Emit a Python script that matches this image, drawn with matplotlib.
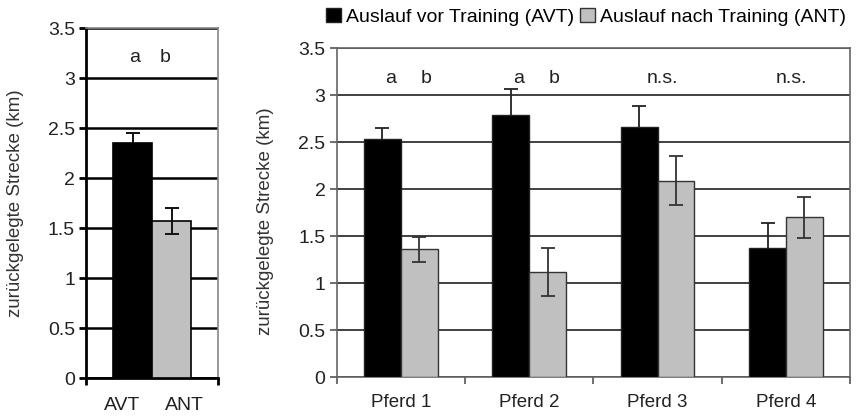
import matplotlib.pyplot as plt
import numpy as np

plt.rcParams['font.family'] = ['Liberation Sans', 'DejaVu Sans']

# overall means (left panel)
overall_labels = ['AVT', 'ANT']
overall_mean = [2.35, 1.57]
overall_err = [0.10, 0.13]
overall_letters = ['a', 'b']

# per horse (right panel)
horses = ['Pferd 1', 'Pferd 2', 'Pferd 3', 'Pferd 4']
avt_mean = [2.53, 2.79, 2.66, 1.38]
avt_err = [0.12, 0.28, 0.23, 0.26]
ant_mean = [1.36, 1.12, 2.09, 1.70]
ant_err = [0.13, 0.26, 0.26, 0.22]
group_letters = [('a', 'b'), ('a', 'b'), 'n.s.', 'n.s.']

yticks = [0, 0.5, 1, 1.5, 2, 2.5, 3, 3.5]
ytick_labels = ['0', '0.5', '1', '1.5', '2', '2.5', '3', '3.5']
ylabel = 'zurückgelegte Strecke (km)'
legend_labels = ['Auslauf vor Training (AVT)', 'Auslauf nach Training (ANT)']

BLACK = '#000000'
GRAY = '#c0c0c0'
TXT = '#222222'
FS = 14

fig = plt.figure(figsize=(8.6, 4.16), dpi=100)

# ---------- left panel ----------
ax1 = fig.add_axes([0.1, 0.0913, 0.1535, 0.841])
x1 = np.arange(len(overall_labels))
ax1.bar(x1, overall_mean, width=1.0, color=[BLACK, GRAY], edgecolor='black',
        linewidth=1.2, zorder=3)
# black bar hides the lower half of its own error bar
ax1.errorbar(x1[0], overall_mean[0], yerr=overall_err[0], fmt='none',
             ecolor='#111111', elinewidth=1.4, capsize=5, capthick=1.4, zorder=2)
ax1.errorbar(x1[1], overall_mean[1], yerr=overall_err[1], fmt='none',
             ecolor='#111111', elinewidth=1.4, capsize=5, capthick=1.4, zorder=4)
ax1.text(x1[0] + 0.05, 3.21, overall_letters[0], ha='center', va='center',
         fontsize=FS, color=TXT)
ax1.text(x1[1] - 0.18, 3.21, overall_letters[1], ha='center', va='center',
         fontsize=FS, color=TXT)
ax1.set_xlim(-1.205, 2.18)
ax1.set_ylim(0, 3.5)
ax1.set_yticks(yticks)
ax1.set_yticklabels(ytick_labels)
ax1.yaxis.grid(True, color='black', linewidth=1.8, zorder=0)
ax1.set_axisbelow(True)
ax1.set_xticks([-1.205, 2.18])
ax1.set_xticklabels(['', ''])
ax1.set_xticks([x1[0] - 0.27, x1[1] + 0.33], minor=True)
ax1.set_xticklabels(overall_labels, minor=True)
ax1.tick_params(axis='x', which='minor', length=0, pad=14, labelsize=FS, labelcolor=TXT)
ax1.tick_params(axis='x', which='major', length=5, width=2, direction='out')
ax1.tick_params(axis='y', length=5, width=2, labelsize=FS, labelcolor=TXT, pad=3)
for s in ['left', 'bottom']:
    ax1.spines[s].set_linewidth(2)
    ax1.spines[s].set_color('black')
for s in ['top', 'right']:
    ax1.spines[s].set_linewidth(1.2)
    ax1.spines[s].set_color('#888888')
ax1.set_ylabel(ylabel, fontsize=13.5, color='#333333')
ax1.yaxis.set_label_coords(-0.47, 0.5)

# ---------- right panel ----------
ax2 = fig.add_axes([0.3915, 0.093, 0.597, 0.791])
xg = np.arange(len(horses)) + 0.5
w = 0.287
ax2.bar(xg - w / 2, avt_mean, width=w, color=BLACK, edgecolor='#222222',
        linewidth=1, zorder=3, label=legend_labels[0])
ax2.bar(xg + w / 2, ant_mean, width=w, color=GRAY, edgecolor='#333333',
        linewidth=1, zorder=3, label=legend_labels[1])
ax2.errorbar(xg - w / 2, avt_mean, yerr=avt_err, fmt='none', ecolor='#222222',
             elinewidth=1.3, capsize=5, capthick=1.3, zorder=2.5)
ax2.errorbar(xg + w / 2, ant_mean, yerr=ant_err, fmt='none', ecolor='#333333',
             elinewidth=1.3, capsize=5, capthick=1.3, zorder=4)
for xi, lt in zip(xg, group_letters):
    if isinstance(lt, tuple):
        ax2.text(xi - w / 2 + 0.06, 3.18, lt[0], ha='center', va='center',
                 fontsize=FS, color=TXT)
        ax2.text(xi + w / 2 + 0.05, 3.18, lt[1], ha='center', va='center',
                 fontsize=FS, color=TXT)
    else:
        ax2.text(xi + 0.04, 3.18, lt, ha='center', va='center', fontsize=FS, color=TXT)
ax2.set_xlim(0, len(horses))
ax2.set_ylim(0, 3.5)
ax2.set_yticks(yticks)
ax2.set_yticklabels(ytick_labels)
ax2.yaxis.grid(True, color='#404040', linewidth=1.4, zorder=0)
ax2.set_axisbelow(True)
ax2.set_xticks(np.arange(len(horses) + 1))
ax2.set_xticklabels([''] * (len(horses) + 1))
ax2.set_xticks(xg, minor=True)
ax2.set_xticklabels(horses, minor=True)
ax2.tick_params(axis='x', which='minor', length=0, pad=12, labelsize=FS - 0.5,
                labelcolor=TXT)
ax2.tick_params(axis='x', which='major', length=5, width=1.2, color='#555555')
ax2.tick_params(axis='y', length=5, width=1.2, color='#555555', labelsize=FS,
                labelcolor=TXT, pad=3)
for s in ax2.spines.values():
    s.set_color('#666666')
    s.set_linewidth(1.2)
ax2.set_ylabel(ylabel, fontsize=13.5, color='#333333')
ax2.yaxis.set_label_coords(-0.122, 0.475)

fig.legend(loc='upper left', bbox_to_anchor=(0.365, 1.01), ncol=2, frameon=False,
           fontsize=FS, handlelength=0.8, handleheight=0.8, handletextpad=0.25,
           columnspacing=0.3, borderaxespad=0.2)

fig.savefig('out.png', dpi=100)
